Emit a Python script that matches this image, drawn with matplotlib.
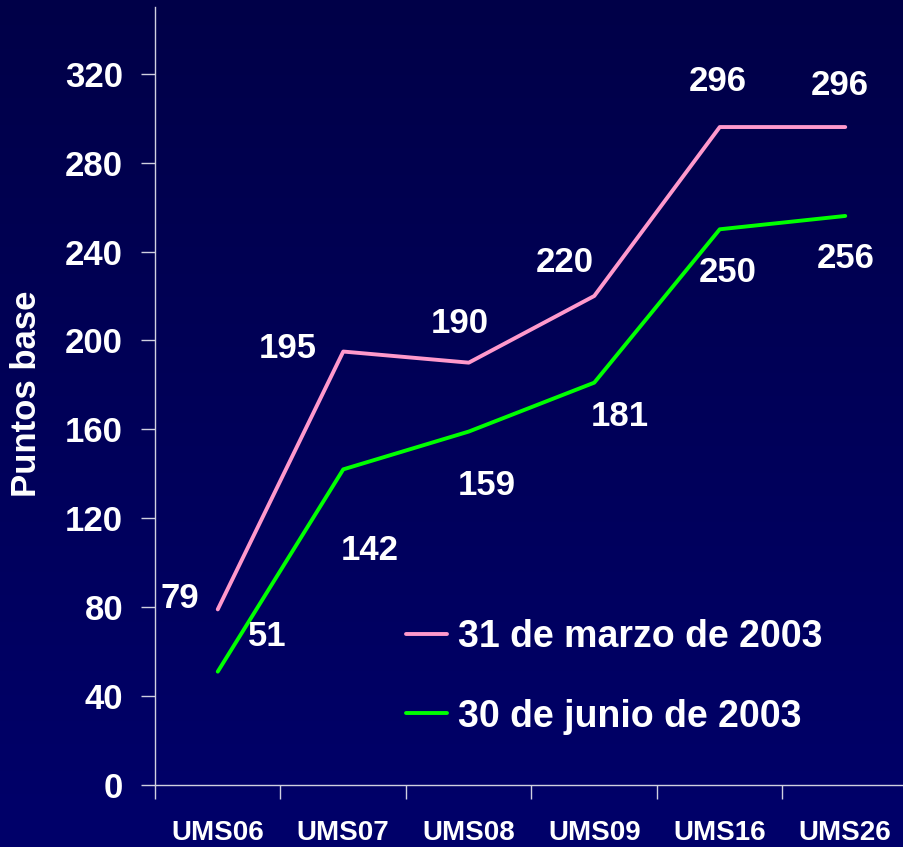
import numpy as np
import matplotlib
matplotlib.use("Agg")
import matplotlib.pyplot as plt

categories = ["UMS06", "UMS07", "UMS08", "UMS09", "UMS16", "UMS26"]
marzo = [79, 195, 190, 220, 296, 296]
junio = [51, 142, 159, 181, 250, 256]
yticks = [0, 40, 80, 120, 160, 200, 240, 280, 320]
series_names = ["31 de marzo de 2003", "30 de junio de 2003"]

# label offsets in pixels (dx, dy)
marzo_off = [(-38, 11), (-55, 3), (-9, 39), (-29, 33), (-2, 46), (-5, 42)]
junio_off = [(50, 35), (27, -81), (18, -54), (26, -34), (8, -43), (0, -43)]

plt.rcParams['font.family'] = ['Liberation Sans', 'DejaVu Sans']
W, H = 904, 847
fig = plt.figure(figsize=(W / 100, H / 100), dpi=100)

# gradient background
bg = fig.add_axes([0, 0, 1, 1], zorder=-10)
grad = np.linspace(0, 1, 256).reshape(-1, 1)
top = np.array([0x00, 0x00, 0x48]) / 255
bot = np.array([0x00, 0x00, 0x6a]) / 255
img = top + (bot - top) * grad[:, :, None] * np.ones((1, 1, 3))
bg.imshow(img, aspect='auto', extent=[0, 1, 0, 1], origin='upper')
bg.axis('off')

left = 155 / W
bottom = (H - 785) / H
width = (908 - 155) / W
height = (785 - 7) / H
ax = fig.add_axes([left, bottom, width, height])
ax.patch.set_alpha(0)

x = np.arange(len(categories))
l1, = ax.plot(x, marzo, color='#ff99cc', lw=2.8, solid_capstyle='round', label=series_names[0])
l2, = ax.plot(x, junio, color='#00ff00', lw=2.8, solid_capstyle='round', label=series_names[1])

for xi, v, (dx, dy) in zip(x, marzo, marzo_off):
    ax.annotate(str(v), (xi, v), xytext=(dx, dy), textcoords='offset pixels',
                ha='center', va='center', color='white', fontsize=25, fontweight='bold')
for xi, v, (dx, dy) in zip(x, junio, junio_off):
    ax.annotate(str(v), (xi, v), xytext=(dx, dy), textcoords='offset pixels',
                ha='center', va='center', color='white', fontsize=25, fontweight='bold')

ax.set_xlim(-0.5, 5.5)
ax.set_ylim(0, 350)
ax.set_yticks(yticks)
ax.set_yticklabels([str(t) for t in yticks], color='white', fontsize=25, fontweight='bold')
ax.set_xticks(np.arange(-0.5, 5.6, 1.0))
ax.set_xticklabels([])
ax.set_xticks(x, minor=True)
ax.set_xticklabels(categories, minor=True, color='white', fontsize=20, fontweight='bold')
ax.tick_params(axis='x', which='minor', length=0, pad=25)
ax.tick_params(axis='x', which='major', length=10, color='#d0d0e0', width=1, direction='out')
ax.tick_params(axis='y', length=10, color='#d0d0e0', width=1, direction='out', pad=13)

for s in ['top', 'right']:
    ax.spines[s].set_visible(False)
for s in ['left', 'bottom']:
    ax.spines[s].set_color('#d0d0e0')
    ax.spines[s].set_linewidth(1)

fig.text(27 / W, 1 - 394 / H, "Puntos base", rotation=90, ha='center', va='center',
         color='white', fontsize=25, fontweight='bold')

leg = ax.legend(handles=[l1, l2], loc='upper left', bbox_to_anchor=(391 / W, 1 - 604 / H),
                bbox_transform=fig.transFigure, frameon=False, fontsize=27,
                handlelength=1.1, handletextpad=0.3, labelspacing=1.16, borderaxespad=0)
for t in leg.get_texts():
    t.set_color('white')
    t.set_fontweight('bold')

fig.savefig("out.png", dpi=100, facecolor=fig.get_facecolor())
